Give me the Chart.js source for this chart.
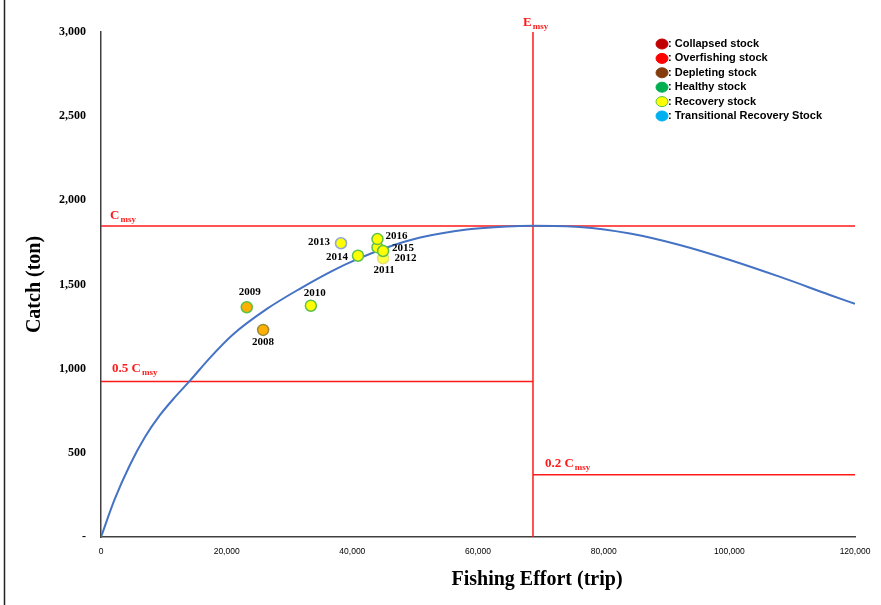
<!DOCTYPE html>
<html><head><meta charset="utf-8">
<script src="https://cdn.jsdelivr.net/npm/chart.js@4/dist/chart.umd.min.js"></script>
<style>html,body{margin:0;padding:0;background:#fff;} canvas{display:block}</style>
</head><body>
<canvas id="c" width="881" height="605"></canvas>
<script>
// ---- data ----
const years  = [2008, 2009, 2010, 2011, 2012, 2013, 2014, 2015, 2016];
const effort = [25800, 23200, 33400, 44900, 44000, 38200, 40900, 44900, 44000];
const catchT = [1230, 1365, 1374, 1656, 1721, 1745, 1671, 1699, 1770];
const pointFill   = ['#FFB000','#FFB000','#FFFF00','#FFFF40','#FFFF00','#FFFF00','#FFFF00','#FFFF00','#FFFF00'];
const pointBorder = ['#9C8A3A','#5CC04A','#5CC04A','#E6E07A','#5CC04A','#8FA6D6','#5CC04A','#5CC04A','#5CC04A'];

const curveEffort = [0, 2200, 4600, 7000, 9400, 11800, 14200, 17300, 21000, 26400, 31700, 36900, 40700, 45500, 50800, 58200, 64600, 68750, 76200, 84200, 92100, 100100, 108100, 116000, 120000];
const curveCatch  = [0, 226, 428, 594, 725, 832, 930, 1063, 1203, 1355, 1476, 1583, 1649, 1720, 1779, 1827, 1845, 1849, 1842, 1803, 1735, 1646, 1545, 1438, 1385];

const Cmsy = 1848;
const Emsy = 68750;
const effortMax = 120000;
const catchMax = 3000;

const xTicks = [0, 20000, 40000, 60000, 80000, 100000, 120000];
const yTicks = [0, 500, 1000, 1500, 2000, 2500, 3000];
const yTickLabels = ['-', '500', '1,000', '1,500', '2,000', '2,500', '3,000'];
const xTickLabels = ['0', '20,000', '40,000', '60,000', '80,000', '100,000', '120,000'];

const legendLabels = [': Collapsed stock', ': Overfishing stock', ': Depleting stock', ': Healthy stock', ': Recovery stock', ': Transitional Recovery Stock'];
const legendColors = ['#C00000', '#FF0000', '#843C0C', '#00B050', '#FFFF00', '#00B0F0'];
const legendBorders = ['#C00000', '#FF0000', '#843C0C', '#00B050', '#5CC04A', '#00B0F0'];

// ---- styling / placement (not data) ----
const labelOffsets = {2008:[0,12],2009:[3,-15],2010:[4,-13],2011:[1,12],2012:[28,11],2013:[-22,-1],2014:[-21,1],2015:[20,-3],2016:[19,-3]};
const RED = '#FF1A1A';

function drawSub(ctx, x, y, main, sub, size, subSize){
  ctx.font = 'bold ' + size + 'px "Liberation Serif", "Times New Roman", serif';
  ctx.textBaseline = 'alphabetic';
  ctx.textAlign = 'left';
  ctx.fillText(main, x, y);
  const w = ctx.measureText(main).width;
  ctx.font = 'bold ' + subSize + 'px "Liberation Serif", "Times New Roman", serif';
  ctx.fillText(sub, x + w + 1, y + 3);
}

const extras = {
  id: 'extras',
  afterDatasetsDraw(chart){
    const {ctx, scales:{x, y}} = chart;
    ctx.save();
    ctx.strokeStyle = '#222'; ctx.lineWidth = 1.5;
    ctx.beginPath(); ctx.moveTo(4.5, 0); ctx.lineTo(4.5, 605); ctx.stroke();

    ctx.fillStyle = RED;
    drawSub(ctx, x.getPixelForValue(0) + 9, y.getPixelForValue(Cmsy) - 7, 'C', 'msy', 13, 9);
    drawSub(ctx, x.getPixelForValue(0) + 11, y.getPixelForValue(Cmsy*0.5) - 9, '0.5 C', 'msy', 13, 9);
    drawSub(ctx, x.getPixelForValue(Emsy) + 12, y.getPixelForValue(Cmsy*0.2) - 8, '0.2 C', 'msy', 13, 9);
    drawSub(ctx, x.getPixelForValue(Emsy) - 10, y.getPixelForValue(catchMax) - 6, 'E', 'msy', 13, 9);

    ctx.fillStyle = '#000';
    ctx.font = 'bold 11px "Liberation Serif", "Times New Roman", serif';
    ctx.textAlign = 'center'; ctx.textBaseline = 'middle';
    years.forEach((yr, i) => {
      const px = x.getPixelForValue(effort[i]);
      const py = y.getPixelForValue(catchT[i]);
      const o = labelOffsets[yr] || [0,-12];
      ctx.fillText(String(yr), px + o[0], py + o[1]);
    });

    ctx.font = 'bold 20px "Liberation Serif", "Times New Roman", serif';
    ctx.fillText('Fishing Effort (trip)', 537, 580);

    ctx.font = 'bold 11px "Liberation Sans Narrow", "Arial Narrow", "Liberation Sans", Arial, sans-serif';
    ctx.textAlign = 'left'; ctx.textBaseline = 'middle';
    legendLabels.forEach((t, i) => {
      const cy = 44 + i * 14.4;
      ctx.beginPath();
      ctx.ellipse(662, cy, 6, 5, 0, 0, Math.PI*2);
      ctx.fillStyle = legendColors[i]; ctx.fill();
      ctx.lineWidth = 1; ctx.strokeStyle = legendBorders[i]; ctx.stroke();
      ctx.fillStyle = '#000';
      ctx.fillText(t, 668, cy);
    });
    ctx.restore();
  }
};

const ctx = document.getElementById('c').getContext('2d');
new Chart(ctx, {
  type: 'scatter',
  data: {
    datasets: [
      {
        label: 'Catch',
        data: effort.map((e, i) => ({x: e, y: catchT[i]})),
        backgroundColor: pointFill,
        borderColor: pointBorder,
        borderWidth: 1.5,
        pointRadius: 5.5,
        order: 0
      },
      {
        label: 'Curve',
        data: curveEffort.map((e, i) => ({x: e, y: curveCatch[i]})),
        showLine: true,
        borderColor: '#4472C4',
        borderWidth: 2,
        pointRadius: 0,
        cubicInterpolationMode: 'monotone',
        order: 1
      },
      {
        label: 'Cmsy',
        data: [{x: 0, y: Cmsy}, {x: effortMax, y: Cmsy}],
        showLine: true, borderColor: RED, borderWidth: 1.5, pointRadius: 0, order: 2
      },
      {
        label: '0.5 Cmsy',
        data: [{x: 0, y: Cmsy*0.5}, {x: Emsy, y: Cmsy*0.5}],
        showLine: true, borderColor: RED, borderWidth: 1.5, pointRadius: 0, order: 2
      },
      {
        label: '0.2 Cmsy',
        data: [{x: Emsy, y: Cmsy*0.2}, {x: effortMax, y: Cmsy*0.2}],
        showLine: true, borderColor: RED, borderWidth: 1.5, pointRadius: 0, order: 2
      },
      {
        label: 'Emsy',
        data: [{x: Emsy, y: 0}, {x: Emsy, y: catchMax}],
        showLine: true, borderColor: RED, borderWidth: 1.5, pointRadius: 0, order: 2
      }
    ]
  },
  options: {
    responsive: false,
    animation: false,
    layout: { padding: { left: 0, right: 26, top: 32, bottom: 0 } },
    plugins: { legend: { display: false }, tooltip: { enabled: false } },
    scales: {
      x: {
        type: 'linear', min: 0, max: effortMax,
        afterBuildTicks: s => { s.ticks = xTicks.map(v => ({value: v})); },
        afterFit: s => { s.height = 68; },
        grid: { display: false, drawTicks: false },
        border: { display: true, color: '#404040', width: 1.5 },
        ticks: {
          padding: 10, maxRotation: 0, autoSkip: false,
          color: '#000',
          font: { family: '"Liberation Sans", Arial, sans-serif', size: 8.5 },
          callback: v => { const i = xTicks.indexOf(v); return i >= 0 ? xTickLabels[i] : ''; }
        }
      },
      y: {
        type: 'linear', min: 0, max: catchMax,
        afterBuildTicks: s => { s.ticks = yTicks.map(v => ({value: v})); },
        afterFit: s => { s.width = 101; },
        grid: { display: false, drawTicks: false },
        border: { display: true, color: '#404040', width: 1.5 },
        title: {
          display: true, text: 'Catch (ton)', color: '#000',
          font: { family: '"Liberation Serif", "Times New Roman", serif', size: 20, weight: 'bold' },
          padding: { top: 23 }
        },
        ticks: {
          padding: 15, autoSkip: false, color: '#000',
          font: { family: '"Liberation Serif", "Times New Roman", serif', size: 12, weight: 'bold' },
          callback: v => { const i = yTicks.indexOf(v); return i >= 0 ? yTickLabels[i] : ''; }
        }
      }
    }
  },
  plugins: [extras]
});
</script>
</body></html>
